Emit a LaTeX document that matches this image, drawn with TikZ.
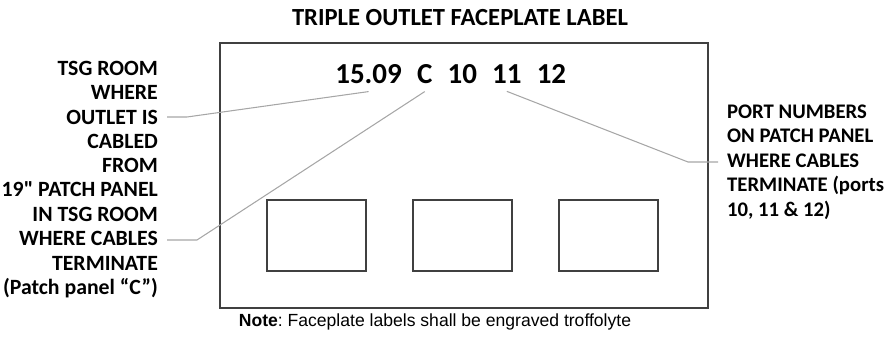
\documentclass[tikz,border=0pt]{standalone}
\usepackage{fontspec}
\setmainfont{Carlito}[Ligatures=TeXOff]
\newfontfamily\notefont{Liberation Sans}
\usetikzlibrary{positioning}

\tikzset{
	lbl/.style={font=\bfseries\fontsize{12.4}{13.9}\selectfont, inner sep=0pt, inner xsep=5pt},
	lead/.style={draw=black!35, line width=0.6pt},
	plate/.style={draw=black!75, line width=1.1pt, rectangle},
	jack/.style={plate, minimum width=1.98cm, minimum height=1.42cm},
	digit/.style={font=\bfseries\fontsize{16.5}{18}\selectfont, inner xsep=0pt, inner ysep=4pt},
}

\begin{document}
\frenchspacing
\begin{tikzpicture}[x=0.02cm, y=-0.02cm]
	\useasboundingbox (0,0) rectangle (890,347);
	\def\jackgap{146} % Distance between the jack openings
	
	\node[font=\bfseries\fontsize{14}{16}\selectfont] (title) at (460,18) {TRIPLE OUTLET FACEPLATE LABEL};
	
	% Faceplate with its three openings
	\node[plate, minimum width=9.76cm, minimum height=5.3cm] (plate) at (464,175.5) {};
	\foreach \i in {1,2,3} {
		\node[jack] (jack\i) at (170.5 + \i * \jackgap, 235.5) {};
	}
	
	% Engraved label text
	\node[digit, anchor=base west] (room) at (335,84) {15.09};
	\node[digit, base right=0.29cm of room] (panel) {C};
	\node[digit, base right=0.29cm of panel] (p10) {10};
	\node[digit, base right=0.29cm of p10] (p11) {11};
	\node[digit, base right=0.29cm of p11] (p12) {12};
	
	% Callouts
	\node[lbl, align=right, anchor=east] (roomlbl) at (167,117) {TSG ROOM\\WHERE\\OUTLET IS\\CABLED\\FROM};
	\node[lbl, align=right, anchor=east] (panellbl) at (167,240) {19" PATCH PANEL\\IN TSG ROOM\\WHERE CABLES\\TERMINATE\\(Patch panel “C”)};
	\node[lbl, font=\bfseries\fontsize{11.8}{13.9}\selectfont, align=left, anchor=west] (portlbl) at (718,162) {PORT NUMBERS\\ON PATCH PANEL\\WHERE CABLES\\TERMINATE (ports\\10, 11 \& 12)};
	
	\draw[lead] (roomlbl.east) -- ++(20,0) -- (room.south);
	\draw[lead] (panellbl.east) -- ++(30,0) -- (panel.south);
	\draw[lead] (portlbl.west) -- ++(-30,0) -- (p11.south);
	
	\node[font=\notefont\fontsize{10}{12}\selectfont] (note) at (435,322) {\textbf{Note}: Faceplate labels shall be engraved troffolyte};
\end{tikzpicture}
\end{document}
